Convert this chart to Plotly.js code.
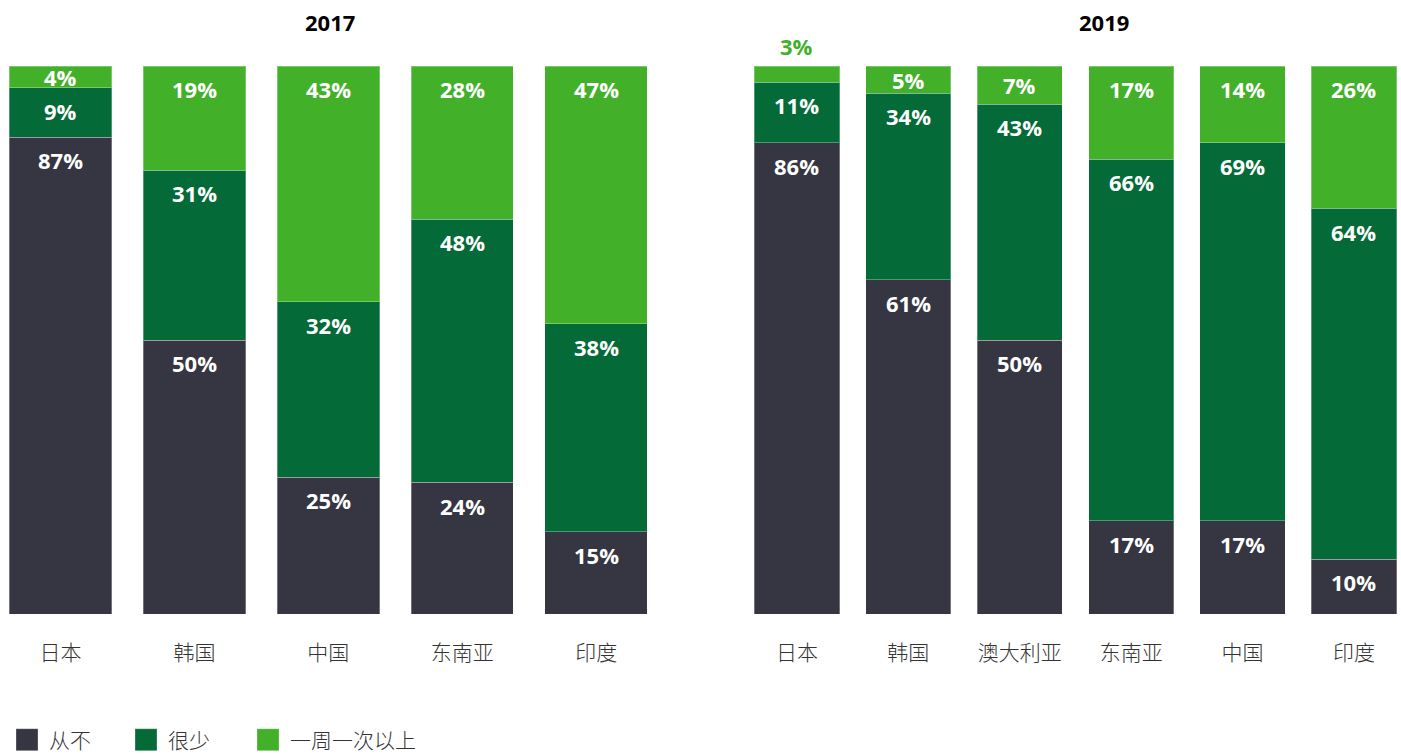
<!DOCTYPE html>
<html>
<head>
<meta charset="utf-8">
<script src="https://cdn.plot.ly/plotly-3.0.1.min.js"></script>
<style>html,body{margin:0;padding:0;background:#fff;}#chart{width:1401px;height:754px;}</style>
</head>
<body>
<div id="chart"></div>
<script>
// ---- data ----
const cats2017 = ['日本', '韩国', '中国', '东南亚', '印度'];
const never2017 = [87, 50, 25, 24, 15];
const rarely2017 = [9, 31, 32, 48, 38];
const weekly2017 = [4, 19, 43, 28, 47];

const cats2019 = ['日本', '韩国', '澳大利亚', '东南亚', '中国', '印度'];
const never2019 = [86, 61, 50, 17, 17, 10];
const rarely2019 = [11, 34, 43, 66, 69, 64];
const weekly2019 = [3, 5, 7, 17, 14, 26];

const seriesNames = ['从不', '很少', '一周一次以上'];
const yearTitles = ['2017', '2019'];
// ---- style ----
const colors = ['#353641', '#046A38', '#43B02A'];
const numFont = 'Open Sans, Noto Sans CJK SC, sans-serif';
const cjkFont = 'Noto Sans CJK SC, sans-serif';
const legendIds = ['legend', 'legend2', 'legend3'];
const legendX = [9 / 1401, 128 / 1401, 250 / 1401];

const groups = [
  {cats: cats2017, vals: [never2017, rarely2017, weekly2017], xa: 'x', ya: 'y'},
  {cats: cats2019, vals: [never2019, rarely2019, weekly2019], xa: 'x2', ya: 'y2'}
];

const traces = [];
const annotations = [];
groups.forEach((g, gi) => {
  const cum = g.cats.map(() => 0);
  g.vals.forEach((arr, si) => {
    traces.push({
      type: 'bar', x: g.cats, y: arr, name: seriesNames[si],
      xaxis: g.xa, yaxis: g.ya,
      marker: {color: colors[si], line: {color: 'rgba(255,255,255,0.3)', width: 1}},
      showlegend: gi === 0, legend: legendIds[si], legendgroup: seriesNames[si],
      hoverinfo: 'x+y+name'
    });
    arr.forEach((v, i) => {
      const top = cum[i] + v;
      const outside = v < 4;
      const a = {
        xref: g.xa, yref: g.ya, x: g.cats[i], xanchor: 'center',
        text: v + '%', showarrow: false,
        font: {family: numFont, size: 22, weight: 700, color: outside ? colors[si] : '#ffffff'}
      };
      if (outside) {
        a.y = top; a.yanchor = 'bottom'; a.yshift = 3;
      } else {
        a.y = top - Math.min(v / 2, 4.2); a.yanchor = 'middle';
      }
      annotations.push(a);
      cum[i] = top;
    });
  });
});

// year titles
const titleFont = {family: numFont, size: 22, weight: 700, color: '#000'};
annotations.push({xref: 'paper', yref: 'paper', x: 0.2355, y: 1.08, xanchor: 'center', yanchor: 'middle',
  text: yearTitles[0], showarrow: false, font: titleFont});
annotations.push({xref: 'paper', yref: 'paper', x: 0.788, y: 1.08, xanchor: 'center', yanchor: 'middle',
  text: yearTitles[1], showarrow: false, font: titleFont});

const xcommon = {showgrid: false, zeroline: false, showline: false, ticks: '', fixedrange: true,
  tickfont: {family: cjkFont, size: 21, color: '#333', weight: 300}, ticklabelstandoff: 24};
const ycommon = {range: [0, 100], showgrid: false, zeroline: false, showline: false,
  showticklabels: false, fixedrange: true};

const layout = {
  width: 1401, height: 754,
  margin: {l: 0, r: 0, t: 66, b: 140, autoexpand: false},
  paper_bgcolor: '#fff', plot_bgcolor: '#fff',
  barmode: 'stack', bargap: 0.235,
  font: {family: numFont, color: '#333'},
  xaxis: Object.assign({}, xcommon, {domain: [0, 0.4711], range: [-0.452, 4.477], anchor: 'y'}),
  yaxis: Object.assign({}, ycommon, {anchor: 'x'}),
  xaxis2: Object.assign({}, xcommon, {domain: [0.521, 1], range: [-0.601, 5.422], anchor: 'y2'}),
  yaxis2: Object.assign({}, ycommon, {anchor: 'x2'}),
  showlegend: true,
  annotations: annotations
};
legendIds.forEach((id, k) => {
  layout[id] = {orientation: 'h', x: legendX[k], xanchor: 'left', y: -0.23, yanchor: 'middle',
    font: {family: cjkFont, size: 21, color: '#333', weight: 300},
    itemclick: false, itemdoubleclick: false, bgcolor: 'rgba(0,0,0,0)'};
});

Plotly.newPlot('chart', traces, layout, {displayModeBar: false}).then(gd => {
  // enlarge the legend swatches (22px squares as in the reference)
  gd.querySelectorAll('.legendpoints path').forEach(p => {
    p.setAttribute('transform', 'translate(18,0)');
    p.setAttribute('d', 'M11,11H-11V-11H11Z');
  });
});
</script>
</body>
</html>
